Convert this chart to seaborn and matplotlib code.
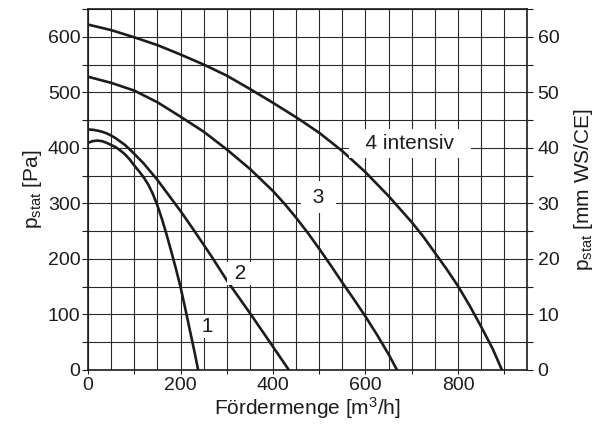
import numpy as np
import pandas as pd
import matplotlib
matplotlib.use("Agg")
import matplotlib.pyplot as plt
import seaborn as sns

# fan curves: air flow [m3/h] -> static pressure [Pa]
Q1 = [0, 10, 20, 30, 40, 50, 60, 70, 80, 90, 100, 110, 120, 130, 140, 150, 160, 170, 180, 190, 200, 210, 220, 230, 238]
P1 = [409, 412, 413, 412, 409, 405, 401, 395, 388, 379, 368, 358, 347, 334, 317, 296, 271, 243, 213, 182, 149, 111, 72, 33, 0]

Q2 = [0, 10, 20, 30, 40, 50, 60, 70, 80, 90, 100, 120, 140, 150, 175, 200, 230, 268, 301, 351, 393, 434]
P2 = [433, 432.5, 431, 429, 426, 422, 417, 411, 405, 397, 389, 372, 352, 342, 314, 286, 250, 203, 160, 101, 50, 0]

Q3 = [0, 50, 100, 150, 200, 250, 300, 350, 400, 425, 450, 475, 500, 525, 550, 575, 600, 625, 650, 668]
P3 = [528, 517, 503, 482, 456, 429, 397, 362, 322, 299, 274, 247, 218, 188, 157, 127, 96, 63, 28, 0]

Q4 = [0, 50, 100, 150, 200, 250, 300, 350, 400, 450, 500, 550, 600, 650, 700, 725, 750, 775, 800, 825, 850, 875, 895]
P4 = [622, 612, 599, 585, 568, 550, 530, 506, 481, 455, 427, 394, 356, 313, 266, 240, 211, 182, 151, 116, 78, 38, 0]

CURVE_NAMES = ["1", "2", "3", "4 intensiv"]
# label positions (Q, p)
LABEL_Q = [258, 329, 498, 696]
LABEL_P = [78, 174, 311, 408]

X_TICKS = [0, 200, 400, 600, 800]
Y_TICKS = [0, 100, 200, 300, 400, 500, 600]
Y2_TICKS = [0, 10, 20, 30, 40, 50, 60]


# ------------------------------------------------------------------------------
def main():
    df = pd.concat([
        pd.DataFrame({"Q": q, "p": p, "curve": name})
        for q, p, name in zip([Q1, Q2, Q3, Q4], [P1, P2, P3, P4], CURVE_NAMES)
    ])

    sns.set_style("ticks")
    plt.rcParams["font.family"] = ["Liberation Sans", "DejaVu Sans"]
    plt.rcParams["mathtext.fontset"] = "custom"
    plt.rcParams["mathtext.rm"] = "Liberation Sans"
    plt.rcParams["mathtext.it"] = "Liberation Sans:italic"
    ink = "#1c1c1c"

    fig, ax = plt.subplots(figsize = (6.16, 4.30), dpi = 100)
    fig.subplots_adjust(left = 0.143, right = 0.856, top = 0.979, bottom = 0.14)

    sns.lineplot(
        data = df, x = "Q", y = "p", hue = "curve", palette = [ink] * 4,
        sort = False, estimator = None, legend = False, linewidth = 1.9, ax = ax,
    )
    for line in ax.get_lines():
        line.set_solid_joinstyle("round")

    ax.set_xlim(0, 950)
    ax.set_ylim(0, 650)
    ax.set_xticks(np.arange(0, 951, 50), minor = True)
    ax.set_yticks(Y_TICKS)
    ax.set_yticks(np.arange(0, 651, 50), minor = True)
    # bottom ticks at every hundred, labels only at the even ones
    ax.set_xticks(np.arange(0, 951, 100), labels = [str(v) if v in X_TICKS else "" for v in range(0, 951, 100)])
    ax.grid(which = "both", color = "#2a2a2a", linewidth = 0.8)
    ax.set_axisbelow(True)
    for s in ax.spines.values():
        s.set_color(ink)
        s.set_linewidth(1.2)

    ax.tick_params(axis = "x", which = "major", length = 3, width = 0.8, pad = 2, labelsize = 14, colors = ink)
    ax.tick_params(axis = "x", which = "minor", length = 0)
    ax.tick_params(axis = "y", which = "both", length = 4.5, width = 0.8, pad = 1, labelsize = 14, colors = ink)

    ax.set_xlabel("Fördermenge [m$^{3}$/h]", fontsize = 15, color = ink, labelpad = 1)
    ax.set_ylabel("p$_{\\mathrm{stat}}$ [Pa]", fontsize = 15, color = ink, labelpad = 3)

    ax2 = ax.twinx()
    ax2.set_ylim(0, 65)
    ax2.set_yticks(Y2_TICKS)
    ax2.set_yticks(np.arange(0, 66, 5), minor = True)
    ax2.tick_params(axis = "y", which = "both", length = 4.5, width = 0.8, pad = 3, labelsize = 14, colors = ink)
    ax2.set_ylabel("p$_{\\mathrm{stat}}$ [mm WS/CE]", fontsize = 15, color = ink, labelpad = 9)
    for s in ax2.spines.values():
        s.set_visible(False)

    pads = [0.1, 0.1, 0.3, 0.25]
    for name, q, p, pad in zip(CURVE_NAMES, LABEL_Q, LABEL_P, pads):
        label = f"  {name}  " if len(name) > 1 else f" {name} "
        ax.text(q, p, label, fontsize = 15, color = ink, ha = "center", va = "center", zorder = 3,
                bbox = dict(boxstyle = f"square,pad={pad}", facecolor = "white", edgecolor = "none"))

    plt.savefig("out.png", dpi = 100)


################################################################################
if __name__ == "__main__":
    main()
